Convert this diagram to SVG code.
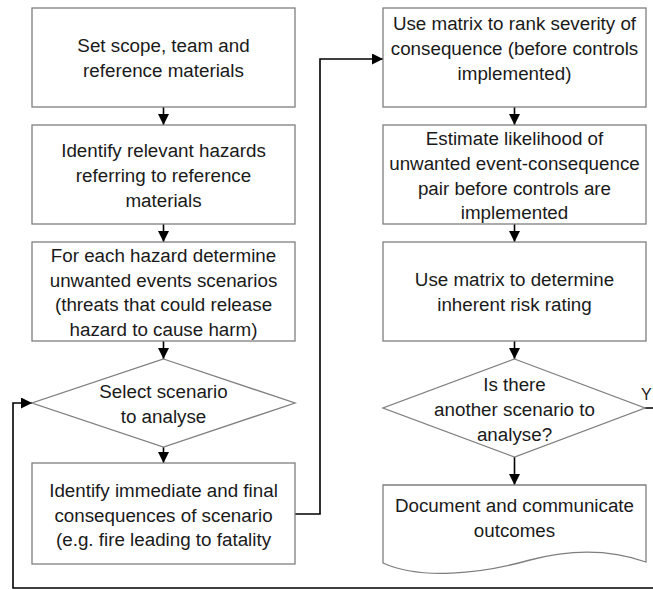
<svg xmlns="http://www.w3.org/2000/svg" width="653" height="590" viewBox="0 0 653 590">
<style>
.box{fill:#fff;stroke:#7f7f7f;stroke-width:1.3}
.t{font-family:"Liberation Sans",Arial,sans-serif;font-size:18.8px;fill:#1a1a1a;text-anchor:middle}
.c{fill:none;stroke:#000;stroke-width:1.6}
</style>
<defs>
<marker id="a" viewBox="0 0 10 10" refX="10" refY="5" markerWidth="11" markerHeight="11" markerUnits="userSpaceOnUse" orient="auto"><path d="M0,0 L10,5 L0,10 Z" fill="#000"/></marker>
</defs>
<rect width="653" height="590" fill="#fff"/>
<g id="connectors">
<path class="c" d="M163.5,107 V125" marker-end="url(#a)"/>
<path class="c" d="M163.5,224 V242" marker-end="url(#a)"/>
<path class="c" d="M163.5,341 V359" marker-end="url(#a)"/>
<path class="c" d="M163.5,447 V463" marker-end="url(#a)"/>
<path class="c" d="M295,514 H320 V59 H383" marker-end="url(#a)"/>
<path class="c" d="M514.5,107 V125" marker-end="url(#a)"/>
<path class="c" d="M514.5,224 V242" marker-end="url(#a)"/>
<path class="c" d="M514.5,341 V359" marker-end="url(#a)"/>
<path class="c" d="M514.5,457 V485" marker-end="url(#a)"/>
<path class="c" d="M645,408 H662 V588 H13 V403 H32" marker-end="url(#a)"/>
<text x="641" y="400" style="font-family:'Liberation Sans',Arial,sans-serif;font-size:16px;fill:#1a1a1a">Y</text>
</g>
<g id="n1"><rect class="box" x="32" y="8" width="263" height="99"/>
<text class="t" x="163.5" y="52">Set scope, team and</text>
<text class="t" x="163.5" y="77">reference materials</text></g>
<g id="n2"><rect class="box" x="32" y="125" width="263" height="99"/>
<text class="t" x="163.5" y="157">Identify relevant hazards</text>
<text class="t" x="163.5" y="182">referring to reference</text>
<text class="t" x="163.5" y="207">materials</text></g>
<g id="n3"><rect class="box" x="32" y="242" width="263" height="99"/>
<text class="t" x="163.5" y="262">For each hazard determine</text>
<text class="t" x="163.5" y="287">unwanted events scenarios</text>
<text class="t" x="163.5" y="311">(threats that could release</text>
<text class="t" x="163.5" y="336">hazard to cause harm)</text></g>
<g id="n4"><path class="box" d="M163.5,359 L295,403 L163.5,447 L32,403 Z"/>
<text class="t" x="163.5" y="398">Select scenario</text>
<text class="t" x="163.5" y="423">to analyse</text></g>
<g id="n5"><rect class="box" x="32" y="463" width="263" height="101"/>
<text class="t" x="163.5" y="497">Identify immediate and final</text>
<text class="t" x="163.5" y="522">consequences of scenario</text>
<text class="t" x="163.5" y="546">(e.g. fire leading to fatality</text></g>
<g id="n6"><rect class="box" x="383" y="8" width="263" height="99"/>
<text class="t" x="514.5" y="30">Use matrix to rank severity of</text>
<text class="t" x="514.5" y="55">consequence (before controls</text>
<text class="t" x="514.5" y="80">implemented)</text></g>
<g id="n7"><rect class="box" x="383" y="125" width="263" height="99"/>
<text class="t" x="514.5" y="145">Estimate likelihood of</text>
<text class="t" x="514.5" y="170">unwanted event-consequence</text>
<text class="t" x="514.5" y="195">pair before controls are</text>
<text class="t" x="514.5" y="219">implemented</text></g>
<g id="n8"><rect class="box" x="383" y="242" width="263" height="99"/>
<text class="t" x="514.5" y="286">Use matrix to determine</text>
<text class="t" x="514.5" y="311">inherent risk rating</text></g>
<g id="n9"><path class="box" d="M514.5,359 L645,408 L514.5,457 L383,408 Z"/>
<text class="t" x="514.5" y="391">Is there</text>
<text class="t" x="514.5" y="416">another scenario to</text>
<text class="t" x="514.5" y="441">analyse?</text></g>
<g id="n10"><path class="box" d="M383,485 H646 V562 C612,550 575,548 530,560 C480,574 420,580 383,563 Z"/>
<text class="t" x="514.5" y="512">Document and communicate</text>
<text class="t" x="514.5" y="537">outcomes</text></g>
</svg>
